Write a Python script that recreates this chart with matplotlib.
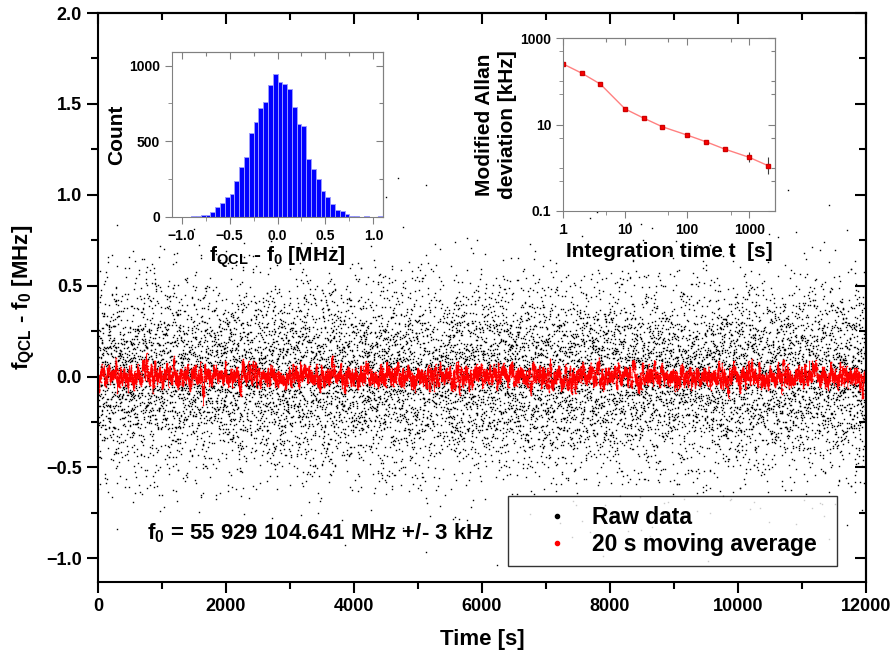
import matplotlib
matplotlib.use("Agg")
import matplotlib.pyplot as plt
from matplotlib.lines import Line2D
from matplotlib.ticker import NullFormatter
import numpy as np
import pandas as pd

plt.rcParams["font.family"] = ["Liberation Sans", "DejaVu Sans"]
plt.rcParams["font.weight"] = "bold"
plt.rcParams["axes.labelweight"] = "bold"
plt.rcParams["mathtext.fontset"] = "custom"
plt.rcParams["mathtext.rm"] = "Liberation Sans:bold"
plt.rcParams["mathtext.default"] = "rm"

# ── data ──────────────────────────────────────────────────────────────────────

# inset histogram of f_QCL - f0, 0.05 MHz bins (left edges, MHz)
hist_left = [-1.05, -1.00, -0.95, -0.90, -0.85, -0.80, -0.75, -0.70, -0.65, -0.60,
             -0.55, -0.50, -0.45, -0.40, -0.35, -0.30, -0.25, -0.20, -0.15, -0.10,
             -0.05, 0.00, 0.05, 0.10, 0.15, 0.20, 0.25, 0.30, 0.35, 0.40,
             0.45, 0.50, 0.55, 0.60, 0.65, 0.70, 0.75, 0.80, 0.85, 0.90,
             0.95, 1.00, 1.05]
hist_counts = [2, 2, 3, 5, 9, 15, 15, 30, 64, 93,
               130, 155, 240, 333, 395, 552, 627, 722, 759, 874,
               943, 890, 881, 845, 728, 614, 598, 380, 316, 252,
               170, 130, 84, 44, 38, 22, 7, 7, 1, 4,
               2, 1, 4]
BIN_W = 0.05

# inset modified Allan deviation [kHz]
allan_tau = [1, 2, 4, 10, 20, 40, 100, 200, 400, 1000, 2000]
allan_dev = [252, 154, 86, 22.9, 14.0, 8.84, 5.69, 4.0, 2.71, 1.74, 1.12]
allan_err_lo = [0, 0, 0, 0, 0, 0, 0.05, 0.1, 0.2, 0.4, 0.41]
allan_err_hi = [0, 0, 0, 0, 0, 0, 0.05, 0.1, 0.25, 0.53, 0.66]

SAMPLE_S = 1.0      # one reading per second
MA_WINDOW = 20      # 20 s moving average
UNPAIRED = 0.25     # share of readings not followed by an opposite one


# ── raw time series ───────────────────────────────────────────────────────────
# The readings are the histogram counts spread over their bins. Their time
# order is not readable from the picture; a fixed integer hash decides it.
# Most readings sit next to an opposite one (the Allan curve falls faster
# than 1/sqrt(t)), which keeps the 20 s average band narrow.

def _mix(x):
    h = np.asarray(x, dtype=np.uint64) + np.uint64(12345)
    h = h * np.uint64(0x9E3779B97F4A7C15)
    h ^= h >> np.uint64(29)
    h = h * np.uint64(0xBF58476D1CE4E5B9)
    h ^= h >> np.uint64(32)
    return h


vals = np.sort(np.concatenate([lo + (np.arange(n) + 0.5) / n * BIN_W
                               for lo, n in zip(hist_left, hist_counts)]))
n_pts = len(vals)
half = n_pts // 2
key = _mix(np.arange(half))
units = []
for k in range(half):
    a, b = vals[k], vals[n_pts - 1 - k]
    if key[k] & np.uint64(1):
        a, b = b, a
    if (key[k] >> np.uint64(8)) % np.uint64(1000) < UNPAIRED * 1000:
        units += [[a], [b]]
    else:
        units.append([a, b])
if n_pts % 2:
    units.append([vals[half]])
order = np.argsort(_mix(np.arange(len(units)) + 777))
raw = np.array([v for i in order for v in units[i]])
t = np.arange(n_pts) * SAMPLE_S
mavg = pd.Series(raw).rolling(MA_WINDOW, center=True, min_periods=1).mean().to_numpy()


def mirror_ticks(a, xmaj, xmin, ymaj, ymin, color, lw, lmaj, lmin):
    top = a.secondary_xaxis("top")
    top.set_xticks(xmaj)
    top.set_xticks(xmin, minor=True)
    top.tick_params(which="both", direction="in", labeltop=False, color=color, width=lw)
    top.tick_params(which="major", length=lmaj)
    top.tick_params(which="minor", length=lmin)
    top.spines["top"].set_color(color)
    top.spines["top"].set_linewidth(lw)
    top.xaxis.set_minor_formatter(NullFormatter())
    right = a.secondary_yaxis("right")
    right.set_yticks(ymaj)
    right.set_yticks(ymin, minor=True)
    right.tick_params(which="both", direction="in", labelright=False, color=color, width=lw)
    right.tick_params(which="major", length=lmaj)
    right.tick_params(which="minor", length=lmin)
    right.spines["right"].set_color(color)
    right.spines["right"].set_linewidth(lw)
    right.yaxis.set_minor_formatter(NullFormatter())


# ── main panel ────────────────────────────────────────────────────────────────
fig = plt.figure(figsize=(8.96, 6.57), dpi=100)
ax = fig.add_axes([98 / 896, 75 / 657, 768 / 896, 569 / 657])

ax.plot(t, raw, ls="none", marker="s", ms=1.0, mew=0, color="black")
ax.plot(t, mavg, color="red", lw=0.3, marker="s", ms=1.0, mew=0)

ax.set_xlim(0, 12000)
ax.set_ylim(-1.13, 2.0)
xmaj = np.arange(0, 12001, 2000)
xmin = np.arange(1000, 12000, 2000)
ymaj = np.arange(-1.0, 2.01, 0.5)
ymin = np.arange(-0.75, 2.0, 0.5)
ax.set_xticks(xmaj)
ax.set_xticks(xmin, minor=True)
ax.set_yticks(ymaj)
ax.set_yticks(ymin, minor=True)
ax.tick_params(which="both", direction="out", width=1.5, labelsize=13)
ax.tick_params(which="major", length=8)
ax.tick_params(which="minor", length=5)
for sp in ax.spines.values():
    sp.set_linewidth(1.5)
mirror_ticks(ax, xmaj, xmin, ymaj, ymin, "black", 1.5, 8, 5)

ax.set_xlabel("Time [s]", fontsize=16, labelpad=10)
ax.set_ylabel("f$_{QCL}$ - f$_0$ [MHz]", fontsize=16, labelpad=7)

ax.text(765, -0.86, "f$_0$ = 55 929 104.641 MHz +/- 3 kHz", fontsize=16,
        va="center", ha="left")

handles = [Line2D([], [], ls="none", marker="o", ms=3, color="black"),
           Line2D([], [], ls="none", marker="o", ms=3, color="red")]
leg = ax.legend(handles, ["Raw data", "20 s moving average"], loc="lower left",
                bbox_to_anchor=(0.534, 0.028, 0.428, 0.12), mode="expand",
                fontsize=16.5, frameon=True, fancybox=False, edgecolor="black",
                borderpad=0.45, handlelength=3.4, handletextpad=-0.2,
                labelspacing=0.15, borderaxespad=0)
leg.get_frame().set_linewidth(1.0)

# ── inset: histogram ──────────────────────────────────────────────────────────
GRAY = "#808080"
axh = fig.add_axes([172 / 896, 440 / 657, 211 / 896, 165 / 657])
axh.bar(np.array(hist_left) + BIN_W / 2, hist_counts, width=BIN_W,
        color="#0000ff", edgecolor="#9a9aff", linewidth=0.7)
axh.set_xlim(-1.1, 1.1)
axh.set_ylim(0, 1090)
hxmaj = [-1.0, -0.5, 0.0, 0.5, 1.0]
hxmin = [-0.75, -0.25, 0.25, 0.75]
hymaj = [0, 500, 1000]
hymin = [250, 750]
axh.set_xticks(hxmaj)
axh.set_xticks(hxmin, minor=True)
axh.set_yticks(hymaj)
axh.set_yticks(hymin, minor=True)
axh.tick_params(which="both", direction="out", color=GRAY, labelsize=10)
axh.tick_params(which="major", length=5)
axh.tick_params(which="minor", length=3)
for sp in axh.spines.values():
    sp.set_color(GRAY)
mirror_ticks(axh, hxmaj, hxmin, hymaj, hymin, GRAY, 0.8, 5, 3)
axh.set_xlabel("f$_{QCL}$ - f$_0$ [MHz]", fontsize=15, labelpad=1)
axh.set_ylabel("Count", fontsize=15, labelpad=2)

# ── inset: modified Allan deviation ───────────────────────────────────────────
axa = fig.add_axes([563 / 896, 446 / 657, 212 / 896, 173 / 657])
axa.plot(allan_tau, allan_dev, color="#ff8080", lw=1.0)
axa.errorbar(allan_tau, allan_dev, yerr=[allan_err_lo, allan_err_hi],
             ls="none", marker="s", ms=3.5, mfc="red", mec="#d00000",
             ecolor="#404040", elinewidth=0.8)
axa.set_xscale("log")
axa.set_yscale("log")
axa.set_xlim(1, 2600)
axa.set_ylim(0.1, 1000)
axmaj = [1, 10, 100, 1000]
axmin = [5, 50, 500]
aymaj = [0.1, 10, 1000]
aymin = [0.5, 1, 5, 50, 100, 500]
axa.set_xticks(axmaj, ["1", "10", "100", "1000"])
axa.set_xticks(axmin, minor=True)
axa.set_yticks(aymaj, ["0.1", "10", "1000"])
axa.set_yticks(aymin, minor=True)
axa.xaxis.set_minor_formatter(NullFormatter())
axa.yaxis.set_minor_formatter(NullFormatter())
axa.tick_params(which="both", direction="out", color=GRAY, labelsize=10)
axa.tick_params(which="major", length=5)
axa.tick_params(which="minor", length=3)
for sp in axa.spines.values():
    sp.set_color(GRAY)
mirror_ticks(axa, axmaj, axmin, aymaj, aymin, GRAY, 0.8, 5, 3)
axa.set_xlabel("Integration time t  [s]", fontsize=15, labelpad=4)
axa.set_ylabel("Modified Allan\ndeviation [kHz]", fontsize=15, labelpad=2,
               linespacing=1.3)

fig.savefig("out.png", dpi=100)
